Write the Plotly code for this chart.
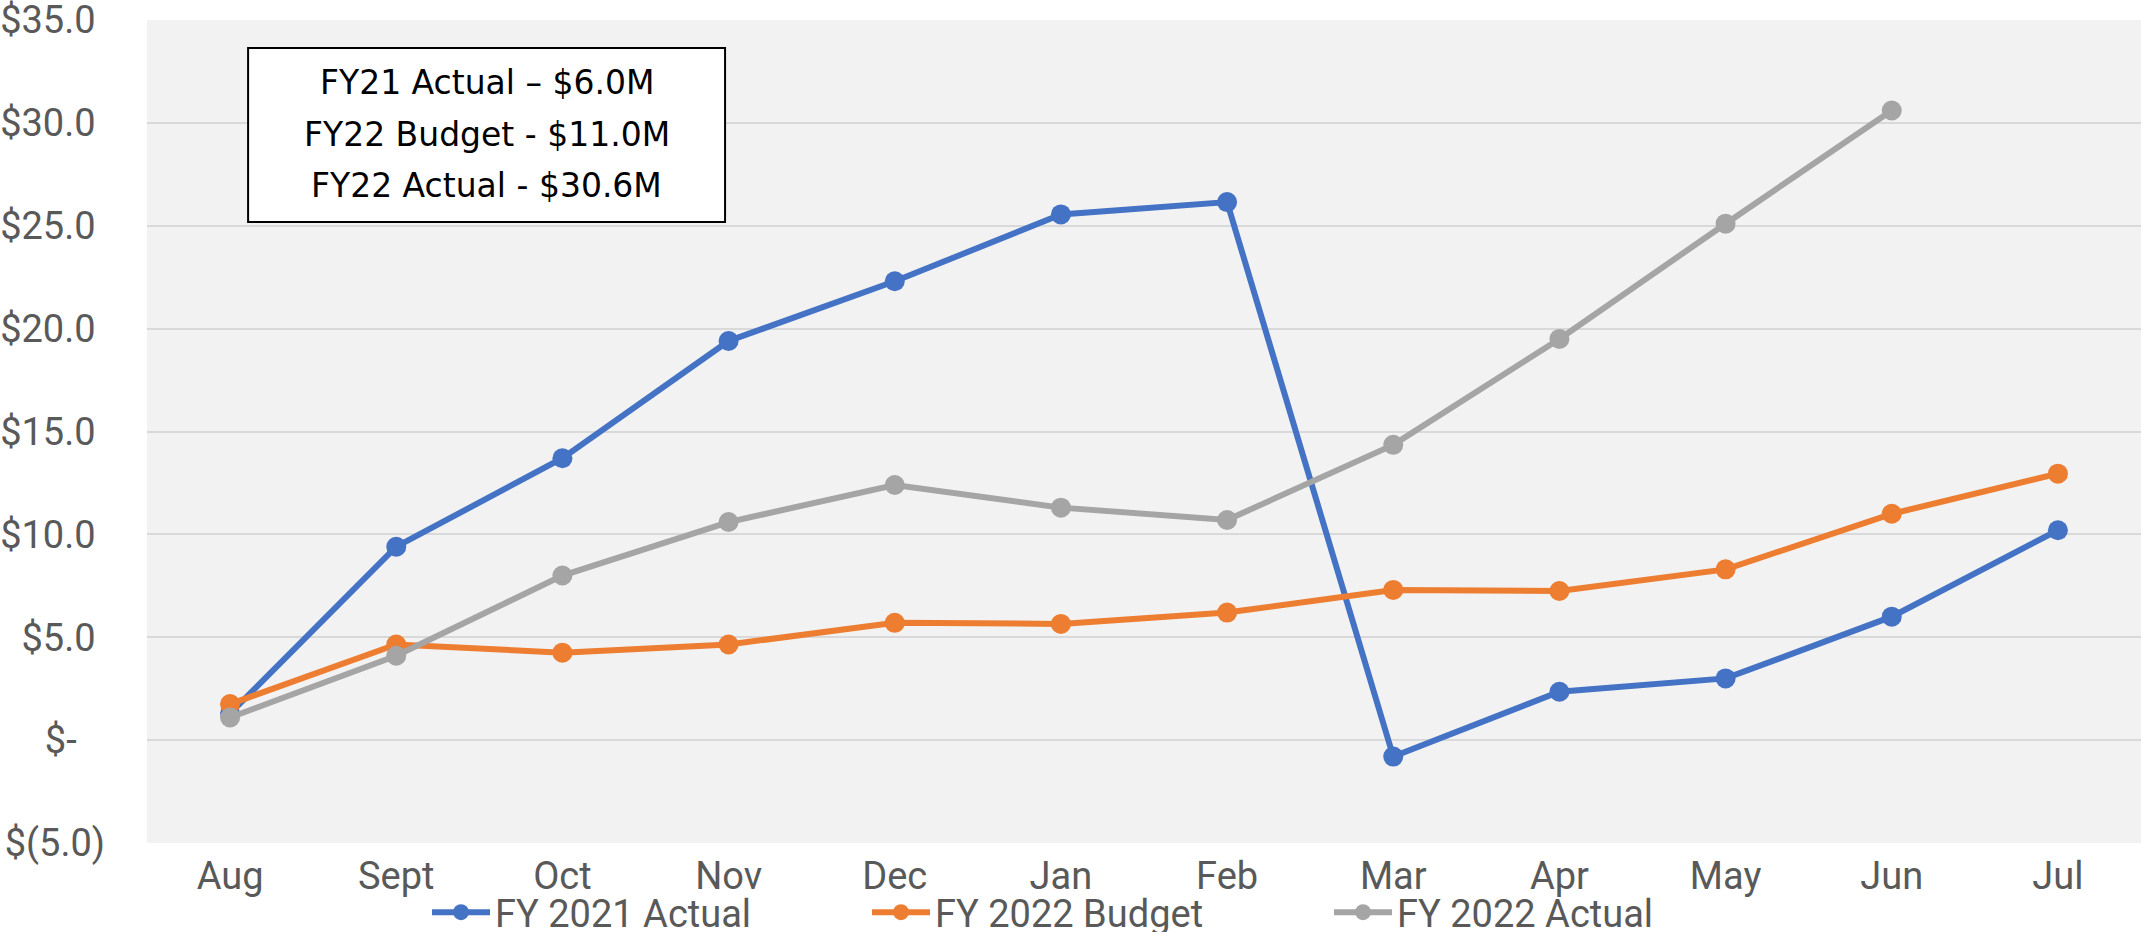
import plotly.graph_objects as go

months = ["Aug", "Sept", "Oct", "Nov", "Dec", "Jan", "Feb", "Mar", "Apr", "May", "Jun", "Jul"]
fy21_actual = [1.3, 9.4, 13.7, 19.4, 22.3, 25.55, 26.15, -0.8, 2.35, 3.0, 6.0, 10.2]
fy22_budget = [1.75, 4.65, 4.25, 4.65, 5.7, 5.65, 6.2, 7.3, 7.25, 8.3, 11.0, 12.95]
fy22_actual = [1.1, 4.1, 8.0, 10.6, 12.4, 11.3, 10.7, 14.35, 19.5, 25.1, 30.6, None]

series_names = ["FY 2021 Actual", "FY 2022 Budget", "FY 2022 Actual"]
series_colors = ["#4472C4", "#ED7D31", "#A5A5A5"]
legend_ids = ["legend", "legend2", "legend3"]

y_tickvals = [-5, 0, 5, 10, 15, 20, 25, 30, 35]
y_ticktext = ["$(5.0)", "$-\u00a0\u00a0\u00a0", "$5.0\u00a0", "$10.0\u00a0", "$15.0\u00a0",
              "$20.0\u00a0", "$25.0\u00a0", "$30.0\u00a0", "$35.0\u00a0"]

note_lines = ["FY21 Actual \u2013 $6.0M", "FY22 Budget - $11.0M", "FY22 Actual - $30.6M"]

fig = go.Figure()
for name, vals, col, lg in zip(series_names, [fy21_actual, fy22_budget, fy22_actual], series_colors, legend_ids):
    fig.add_trace(go.Scatter(
        x=months, y=vals, name=name, mode="lines+markers",
        line=dict(color=col, width=6),
        marker=dict(color=col, size=20),
        connectgaps=False, legend=lg,
    ))

font_family = "Roboto, Liberation Sans, Arial, sans-serif"
label_color = "#595959"

def legend_cfg(xpx):
    return dict(
        orientation="h", xref="container", yref="container",
        x=xpx / 2141, y=0.021, xanchor="left", yanchor="middle",
        font=dict(family=font_family, size=38, color=label_color),
        itemwidth=58, bgcolor="rgba(0,0,0,0)", borderwidth=0,
    )

fig.update_layout(
    width=2141, height=932,
    margin=dict(l=147, r=0, t=20, b=89, autoexpand=False),
    paper_bgcolor="white",
    plot_bgcolor="#F2F2F2",
    font=dict(family=font_family, size=38, color=label_color),
    showlegend=True,
    legend=legend_cfg(427),
    legend2=legend_cfg(867),
    legend3=legend_cfg(1329),
    xaxis=dict(
        type="category", categoryorder="array", categoryarray=months,
        range=[-0.5, 11.5], showgrid=False, zeroline=False, automargin=False,
        showline=False, ticks="", tickfont=dict(family=font_family, size=38, color=label_color),
        ticklabelstandoff=7,
    ),
    yaxis=dict(
        range=[-5, 35], tickvals=y_tickvals, ticktext=y_ticktext, automargin=False,
        showgrid=True, gridcolor="#D9D9D9", gridwidth=2,
        zeroline=False, showline=False, ticks="",
        tickfont=dict(family=font_family, size=38, color=label_color),
        ticklabelstandoff=41, ticklabeloverflow="allow",
    ),
)

fig.add_shape(type="rect", xref="paper", yref="paper",
              x0=0.0507, x1=0.2899, y0=0.7545, y1=0.9660,
              line=dict(color="black", width=2), fillcolor="white", layer="above")

note_y = [0.9235, 0.8603, 0.7995]
for txt, yy in zip(note_lines, note_y):
    fig.add_annotation(xref="paper", yref="paper", x=0.1703, y=yy,
                       text=txt, showarrow=False, xanchor="center", yanchor="middle",
                       font=dict(family="DejaVu Sans, sans-serif", size=33, color="black"))

fig.write_html("out.html", config={"displayModeBar": False},
               post_script="document.body.style.margin='0';document.body.style.overflow='hidden';")
